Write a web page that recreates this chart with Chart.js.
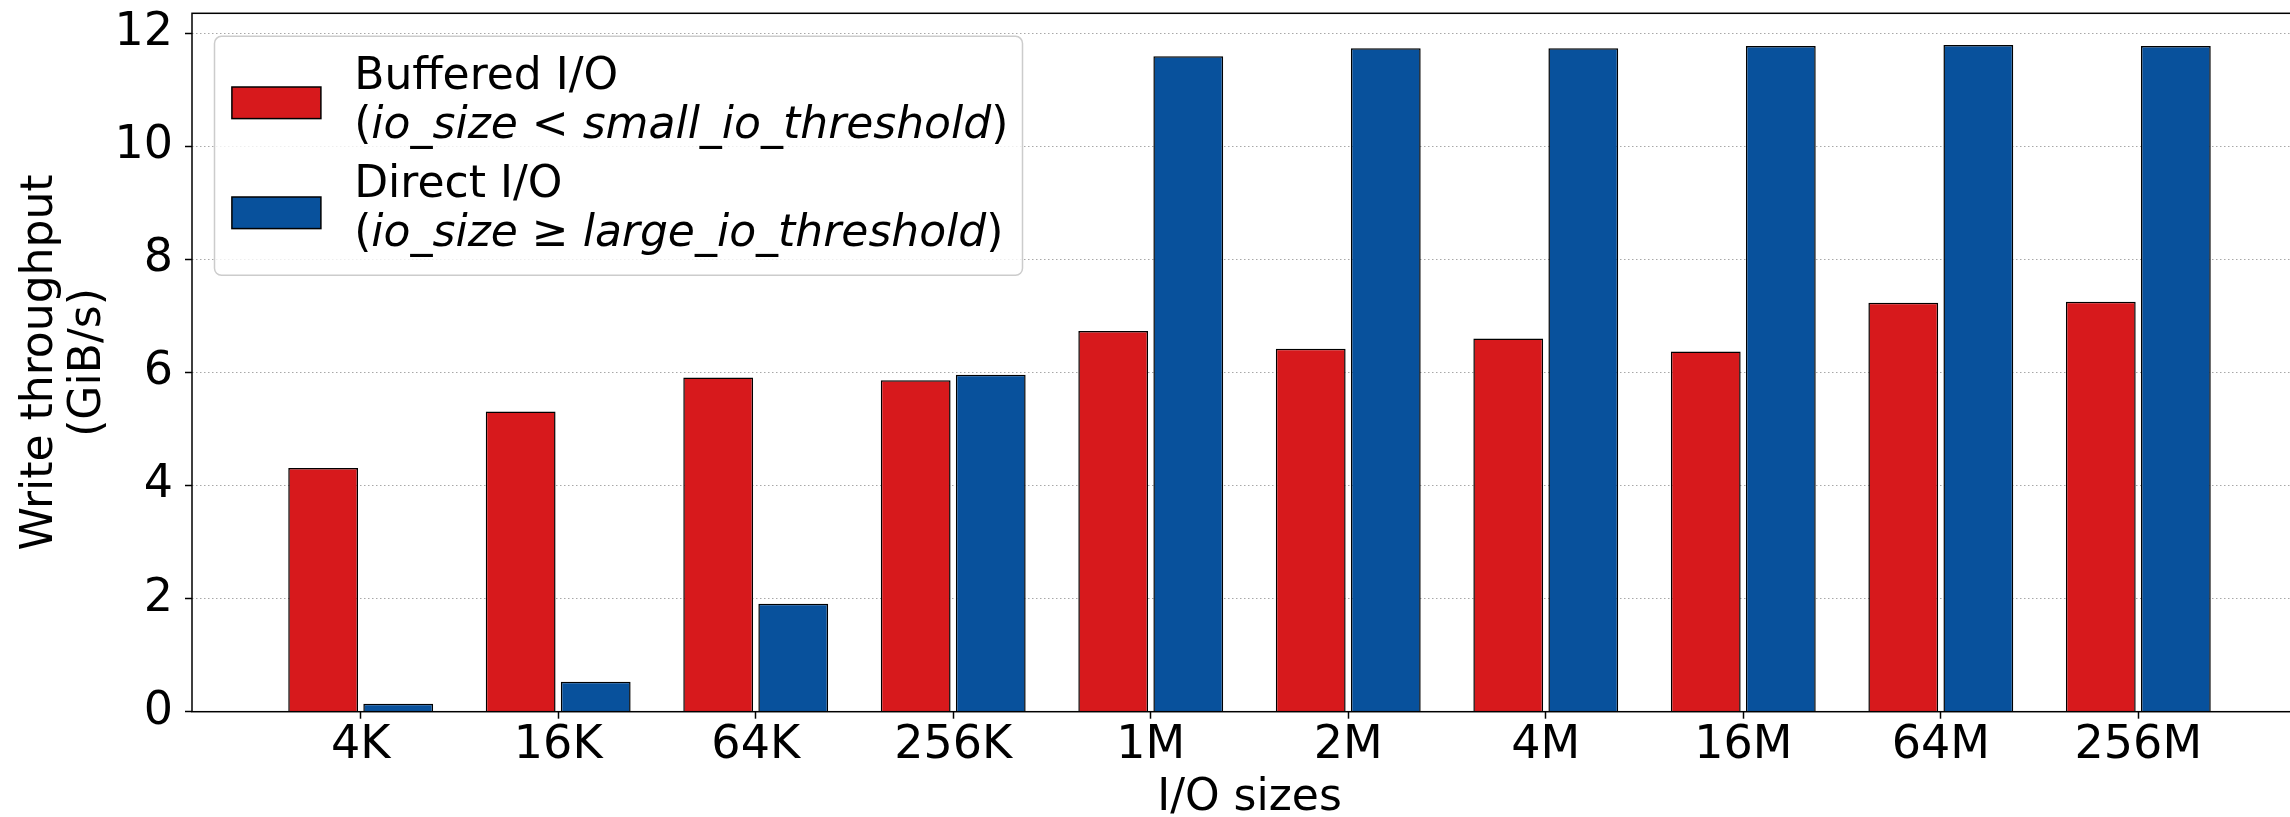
<!DOCTYPE html>
<html>
<head>
<meta charset="utf-8">
<script src="https://cdn.jsdelivr.net/npm/chart.js@4.4.1/dist/chart.umd.min.js"></script>
<style>
  html, body { margin: 0; padding: 0; background: #fff; overflow: hidden; }
  #wrap { width: 2310px; height: 817px; }
</style>
</head>
<body>
<div id="wrap"><canvas id="throughputChart" width="2310" height="817"></canvas></div>
<script>
// Write throughput by I/O size

const sizes = ['4K', '16K', '64K', '256K', '1M', '2M', '4M', '16M', '64M', '256M'];
const buffered = [4.31, 5.31, 5.91, 5.86, 6.73, 6.42, 6.60, 6.37, 7.23, 7.25];
const direct = [0.14, 0.53, 1.91, 5.96, 11.59, 11.73, 11.73, 11.77, 11.79, 11.77];
const yTicks = [0, 2, 4, 6, 8, 10, 12];
const seriesNames = ['Buffered I/O', 'Direct I/O'];
const seriesNotes = [
  ['(', 'io_size', ' < ', 'small_io_threshold', ')'],
  ['(', 'io_size', ' \u2265 ', 'large_io_threshold', ')']
];
const seriesColors = ['#d7191c', '#08519c'];

const family = "'DejaVu Sans'";
Chart.defaults.font.family = family;
Chart.defaults.color = '#000';

const toPoints = arr => arr.map((v, i) => ({ x: i, y: v }));

// spines on top of the bars
const frame = {
  id: 'frame',
  afterDatasetsDraw(chart) {
    const { ctx, chartArea: a } = chart;
    ctx.save();
    ctx.strokeStyle = '#000';
    ctx.lineWidth = 1.5;
    ctx.strokeRect(a.left, a.top, a.right - a.left, a.bottom - a.top);
    ctx.restore();
  }
};

// legend with two-line labels, second line partly italic
const legendBox = {
  id: 'legendBox',
  afterDraw(chart) {
    const { ctx, chartArea: a } = chart;
    const lx = a.left + 22.5, ly = a.top + 23;
    ctx.save();
    ctx.beginPath();
    ctx.roundRect(lx, ly, 808, 239, 7);
    ctx.fillStyle = 'rgba(255,255,255,0.8)';
    ctx.fill();
    ctx.strokeStyle = '#cccccc';
    ctx.lineWidth = 1.5;
    ctx.stroke();

    const swatchTop = [50.7, 160.7];
    const base1 = [52.3, 160.7];
    const base2 = [101.3, 210];
    ctx.textBaseline = 'alphabetic';
    ctx.textAlign = 'left';
    seriesNames.forEach((name, k) => {
      ctx.fillStyle = seriesColors[k];
      ctx.fillRect(lx + 17.4, ly + swatchTop[k], 89, 31.6);
      ctx.strokeStyle = '#000';
      ctx.lineWidth = 1.5;
      ctx.strokeRect(lx + 17.4, ly + swatchTop[k], 89, 31.6);

      ctx.fillStyle = '#000';
      ctx.font = '44px ' + family;
      ctx.fillText(name, lx + 139.7, ly + base1[k]);
      let x = lx + 139.7;
      seriesNotes[k].forEach((part, i) => {
        ctx.font = (i === 1 || i === 3 ? 'italic ' : '') + '44px ' + family;
        ctx.fillText(part, x, ly + base2[k]);
        x += ctx.measureText(part).width;
      });
    });
    ctx.restore();
  }
};

const noPad = s => { s.paddingTop = 0; s.paddingBottom = 0; s.paddingLeft = 0; s.paddingRight = 0; };

new Chart(document.getElementById('throughputChart'), {
  type: 'bar',
  data: {
    datasets: [{
      label: seriesNames[0],
      data: toPoints(buffered),
      backgroundColor: seriesColors[0],
      borderColor: '#000',
      borderWidth: 1.5,
      categoryPercentage: 0.76,
      barPercentage: 0.93
    }, {
      label: seriesNames[1],
      data: toPoints(direct),
      backgroundColor: seriesColors[1],
      borderColor: '#000',
      borderWidth: 1.5,
      categoryPercentage: 0.76,
      barPercentage: 0.93
    }]
  },
  options: {
    responsive: false,
    devicePixelRatio: 1,
    animation: false,
    layout: { autoPadding: false, padding: { top: 13.3, right: 3, bottom: 0, left: 0 } },
    plugins: {
      legend: { display: false },
      tooltip: { enabled: false }
    },
    scales: {
      x: {
        type: 'linear',
        offset: false,
        min: -0.854,
        max: 9.854,
        afterBuildTicks: s => { s.ticks = sizes.map((_, i) => ({ value: i })); },
        afterFit: s => { s.height = 105.3; noPad(s); },
        grid: { offset: false, drawOnChartArea: false, drawTicks: true, tickLength: 7, tickColor: '#000', tickWidth: 1.5 },
        border: { display: false },
        ticks: {
          callback: v => sizes[v],
          font: { size: 46 },
          padding: 0,
          maxRotation: 0,
          autoSkip: false
        },
        title: { display: true, text: 'I/O sizes', font: { size: 44, lineHeight: 0.85 }, padding: 0 }
      },
      y: {
        min: 0,
        max: 12.35,
        afterBuildTicks: s => { s.ticks = yTicks.map(v => ({ value: v })); },
        afterFit: s => { s.width = 192; noPad(s); },
        grid: { color: '#a8a8a8', lineWidth: 1, tickLength: 7, tickColor: '#000', tickWidth: 1.5, tickBorderDash: [] },
        border: { display: false, dash: [1.5, 2.5] },
        ticks: { font: { size: 46 }, padding: 12 },
        title: {
          display: true,
          text: ['Write throughput', '(GiB/s)'],
          font: { size: 44, lineHeight: 1.1 },
          padding: { top: 16, bottom: 0 }
        }
      }
    }
  },
  plugins: [frame, legendBox]
});
</script>
</body>
</html>
